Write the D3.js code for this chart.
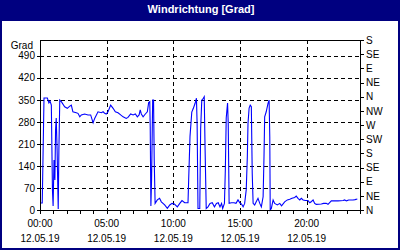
<!DOCTYPE html>
<html>
<head>
<meta charset="utf-8">
<script src="https://d3js.org/d3.v7.min.js"></script>
<style>
body { margin: 0; background: #fff; }
svg { display: block; font-family: "Liberation Sans", Arial, sans-serif; }
</style>
</head>
<body>
<div id="main"></div>
<script>
// measurements of 12.05.19, minutes after midnight and wind direction in degrees
var minutes = [0, 10, 12, 18, 33, 40, 45, 51, 56, 59, 63, 67, 70, 73, 77, 82, 85, 89, 96, 111,
    123, 134, 141, 148, 163, 171, 179, 186, 201, 216, 228, 239, 246, 261, 276, 284, 291, 298, 306, 318,
    329, 339, 351, 363, 374, 388, 396, 408, 419, 429, 438, 446, 451, 456, 464, 474, 483, 489, 494, 496,
    499, 502, 507, 511, 514, 518, 528, 538, 546, 561, 573, 584, 594, 605, 618, 629, 639, 651, 666, 669,
    675, 683, 690, 698, 704, 707, 711, 719, 723, 728, 735, 739, 743, 748, 756, 765, 775, 785, 794, 802,
    810, 817, 822, 830, 834, 838, 844, 847, 851, 861, 873, 882, 891, 900, 907, 914, 921, 928, 933, 936,
    941, 946, 951, 955, 959, 966, 973, 981, 989, 996, 1004, 1008, 1011, 1018, 1026, 1031, 1034, 1036, 1041, 1049,
    1056, 1068, 1079, 1087, 1101, 1113, 1124, 1134, 1146, 1153, 1161, 1169, 1176, 1184, 1194, 1206, 1214, 1222, 1229, 1236,
    1243, 1266, 1276, 1288, 1296, 1311, 1341, 1364, 1371, 1379, 1389, 1409, 1418, 1428];
var degrees = [22, 22, 102, 356, 356, 340, 346, 333, 64, 13, 159, 95, 254, 292, 190, 3, 190, 349, 344, 328,
    323, 330, 333, 312, 309, 307, 296, 302, 305, 302, 302, 277, 291, 312, 309, 312, 307, 305, 312, 333,
    323, 312, 309, 302, 296, 291, 294, 305, 302, 305, 296, 302, 318, 305, 296, 305, 312, 341, 344, 264,
    13, 95, 349, 349, 159, 21, 32, 37, 26, 16, 5, 16, 21, 19, 10, 21, 30, 23, 23, 95,
    233, 311, 323, 339, 355, 276, 5, 5, 260, 349, 355, 360, 190, 5, 10, 21, 23, 10, 21, 23,
    10, 21, 5, 21, 127, 292, 340, 276, 21, 23, 23, 21, 32, 22, 19, 10, 21, 64, 169, 275,
    324, 333, 328, 117, 21, 16, 26, 37, 21, 10, 42, 169, 296, 312, 339, 349, 233, 0, 5, 32,
    21, 16, 21, 13, 26, 32, 34, 37, 40, 44, 37, 32, 37, 32, 30, 30, 23, 27, 32, 21,
    18, 19, 21, 21, 18, 29, 29, 30, 32, 29, 32, 32, 33, 35];

var gradTicks = [0, 70, 140, 210, 280, 350, 420, 490];
var dirTicks = [0, 45, 90, 135, 180, 225, 270, 315, 360, 405, 450, 495, 540];
var dirLabels = ["N", "NE", "E", "SE", "S", "SW", "W", "NW", "N", "NE", "E", "SE", "S"];
var labelHours = [0, 5, 10, 15, 20];

var ctx = {
    w: 400,
    h: 250,
    left: 40,
    right: 360,
    top: 40,
    bottom: 210,
    navy: "#000080",
    day: new Date(2019, 4, 12)
};

var createChart = function(svg) {
    var x = d3.scaleTime()
        .domain([ctx.day, d3.timeDay.offset(ctx.day, 1)])
        .range([ctx.left, ctx.right]);
    var y = d3.scaleLinear()
        .domain([0, 540])
        .range([ctx.bottom, ctx.top]);
    var px = function(v) { return Math.round(v) + 0.5; };

    // frame and title bar
    svg.append("rect")
        .attr("x", 0).attr("y", 0).attr("width", ctx.w).attr("height", ctx.h)
        .attr("fill", "#fff");
    svg.append("path")
        .attr("d", "M0.5,20V249H399V20")
        .attr("fill", "none")
        .attr("stroke", ctx.navy)
        .attr("stroke-width", 2)
        .attr("shape-rendering", "crispEdges");
    svg.append("rect")
        .attr("x", 0).attr("y", 0).attr("width", ctx.w).attr("height", 21)
        .attr("fill", ctx.navy);
    svg.append("text")
        .attr("x", 201).attr("y", 12.5)
        .attr("text-anchor", "middle")
        .attr("fill", "#fff")
        .style("font-size", "11px")
        .style("font-weight", "bold")
        .text("Windrichtung [Grad]");

    // dashed grid
    var grid = svg.append("g")
        .attr("stroke", "#000")
        .attr("stroke-dasharray", "4,3")
        .attr("shape-rendering", "crispEdges");
    grid.selectAll("line.h")
        .data(gradTicks.filter(function(d) { return d > 0; }))
        .enter().append("line")
        .attr("class", "h")
        .attr("x1", ctx.left).attr("x2", ctx.right)
        .attr("y1", function(d) { return px(y(d)); })
        .attr("y2", function(d) { return px(y(d)); });
    grid.selectAll("line.v")
        .data(labelHours.filter(function(d) { return d > 0; }))
        .enter().append("line")
        .attr("class", "v")
        .attr("x1", function(d) { return px(x(d3.timeHour.offset(ctx.day, d))); })
        .attr("x2", function(d) { return px(x(d3.timeHour.offset(ctx.day, d))); })
        .attr("y1", ctx.top).attr("y2", ctx.bottom);

    // the wind direction line
    var line = d3.line()
        .x(function(d) { return x(d3.timeMinute.offset(ctx.day, d.t)); })
        .y(function(d) { return y(d.v); });
    var rows = minutes.map(function(t, i) { return { t: t, v: degrees[i] }; });
    svg.append("path")
        .datum(rows)
        .attr("d", line)
        .attr("fill", "none")
        .attr("stroke", "#0000ff")
        .attr("stroke-width", 1.1);

    // plot frame
    svg.append("rect")
        .attr("x", ctx.left + 0.5).attr("y", ctx.top + 0.5)
        .attr("width", ctx.right - ctx.left).attr("height", ctx.bottom - ctx.top)
        .attr("fill", "none")
        .attr("stroke", "#000")
        .attr("shape-rendering", "crispEdges");

    // axes
    var leftAxis = svg.append("g")
        .attr("transform", "translate(" + ctx.left + ",0)")
        .call(d3.axisLeft(y).tickValues(gradTicks).tickSize(3).tickSizeOuter(0).tickPadding(2));
    var rightAxis = svg.append("g")
        .attr("transform", "translate(" + (ctx.right + 1) + ",0)")
        .call(d3.axisRight(y).tickValues(dirTicks).tickSize(3).tickSizeOuter(0).tickPadding(2)
            .tickFormat(function(d, i) { return dirLabels[i]; }));
    var bottomAxis = svg.append("g")
        .attr("transform", "translate(0," + (ctx.bottom + 1) + ")")
        .call(d3.axisBottom(x).ticks(d3.timeHour.every(1)).tickSize(3).tickSizeOuter(0).tickFormat(""));
    [leftAxis, rightAxis, bottomAxis].forEach(function(a) {
        a.select(".domain").remove();
        a.selectAll("line").attr("shape-rendering", "crispEdges");
        a.selectAll("text").style("font-size", "10px").attr("fill", "#000")
            .style("font-family", "'Liberation Sans', Arial, sans-serif");
    });

    // two line time labels
    var labels = svg.selectAll("text.time")
        .data(labelHours)
        .enter().append("text")
        .attr("class", "time")
        .attr("text-anchor", "middle")
        .style("font-size", "10px")
        .attr("transform", function(d) {
            return "translate(" + x(d3.timeHour.offset(ctx.day, d)) + ",0)";
        });
    labels.append("tspan").attr("x", 0).attr("y", 227)
        .text(function(d) { return d3.timeFormat("%H:%M")(d3.timeHour.offset(ctx.day, d)); });
    labels.append("tspan").attr("x", 0).attr("y", 242)
        .text(function(d) { return d3.timeFormat("%d.%m.%y")(d3.timeHour.offset(ctx.day, d)); });

    svg.append("text")
        .attr("x", 33).attr("y", 48.5)
        .attr("text-anchor", "end")
        .style("font-size", "10px")
        .text("Grad");
};

var createViz = function() {
    var svgEl = d3.select("#main").append("svg")
        .attr("width", ctx.w)
        .attr("height", ctx.h);
    createChart(svgEl);
};

createViz();
</script>
</body>
</html>
